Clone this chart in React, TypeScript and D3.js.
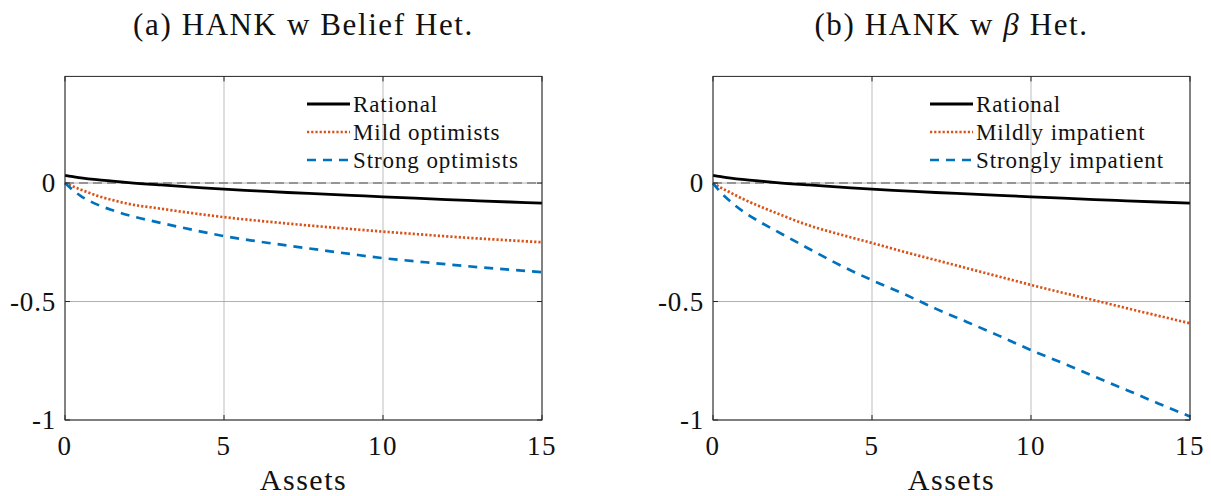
import * as d3 from 'd3';

// asset grid (x values) shared by every series
const assets = [0, 0.25, 0.5, 1, 1.5, 2, 3, 4, 5, 6, 7, 8, 9, 10, 11, 12, 13, 14, 15];

// (a) HANK w Belief Het.
const rationalA = [0.032, 0.027, 0.022, 0.014, 0.008, 0.002, -0.008, -0.017, -0.026, -0.033, -0.04, -0.046, -0.052, -0.058, -0.064, -0.07, -0.075, -0.08, -0.085];
const mildOptimists = [0, -0.015, -0.028, -0.053, -0.072, -0.088, -0.108, -0.127, -0.144, -0.158, -0.171, -0.183, -0.194, -0.205, -0.215, -0.225, -0.234, -0.242, -0.25];
const strongOptimists = [0, -0.03, -0.055, -0.09, -0.115, -0.136, -0.168, -0.197, -0.224, -0.245, -0.264, -0.282, -0.3, -0.317, -0.33, -0.343, -0.355, -0.366, -0.376];

// (b) HANK w beta Het.
const rationalB = [0.032, 0.027, 0.022, 0.014, 0.008, 0.002, -0.008, -0.017, -0.026, -0.033, -0.04, -0.046, -0.052, -0.058, -0.064, -0.07, -0.075, -0.08, -0.085];
const mildlyImpatient = [0, -0.02, -0.037, -0.071, -0.1, -0.127, -0.178, -0.217, -0.253, -0.29, -0.325, -0.36, -0.395, -0.43, -0.463, -0.495, -0.528, -0.56, -0.592];
const stronglyImpatient = [0, -0.04, -0.072, -0.125, -0.166, -0.203, -0.276, -0.347, -0.41, -0.468, -0.53, -0.587, -0.645, -0.705, -0.76, -0.817, -0.873, -0.93, -0.985];

const legendA = ['Rational', 'Mild optimists', 'Strong optimists'];
const legendB = ['Rational', 'Mildly impatient', 'Strongly impatient'];

const xTicks = [0, 5, 10, 15];
const yTicks = [-1, -0.5, 0];
const yTickLabels = ['-1', '-0.5', '0'];

const W = 1211;
const H = 496;
const FONT = '"Liberation Serif", "DejaVu Serif", serif';

const styles = [
  { color: '#000000', width: 2.8, dash: null },
  { color: '#D95319', width: 2.7, dash: '2.2,2' },
  { color: '#0072BD', width: 2.7, dash: '9,7' },
];

function Panel({ left, right, top, bottom, title, labels, series, legendX }) {
  const x = d3.scaleLinear().domain([0, 15]).range([left, right]);
  const y = d3.scaleLinear().domain([-1, 0.45]).range([bottom, top]);
  const line = d3.line<number>()
    .x((_, i) => x(assets[i]))
    .y(d => y(d))
    .curve(d3.curveMonotoneX);
  const cx = (left + right) / 2;
  const rowY = [104, 132, 160];

  return (
    <g>
      <text x={cx} y={35} textAnchor="middle" fontSize={31} letterSpacing={1.6} fontFamily={FONT} fill="#111">{title}</text>

      {/* grid */}
      {xTicks.map(t => (
        <line key={'gx' + t} x1={x(t)} x2={x(t)} y1={top} y2={bottom} stroke="#b5b5b5" strokeWidth={0.9} />
      ))}
      {yTicks.map(t => (
        <line key={'gy' + t} x1={left} x2={right} y1={y(t)} y2={y(t)} stroke="#a8a8a8" strokeWidth={0.9} />
      ))}

      {/* zero reference */}
      <line x1={left} x2={right} y1={y(0)} y2={y(0)} stroke="#808080" strokeWidth={1.5} strokeDasharray="9,5" />

      {series.map((s, i) => (
        <path key={i} d={line(s) || ''} fill="none" stroke={styles[i].color} strokeWidth={styles[i].width}
          strokeDasharray={styles[i].dash || undefined} />
      ))}

      {/* axes box and ticks */}
      <rect x={left} y={top} width={right - left} height={bottom - top} fill="none" stroke="#262626" strokeWidth={1} />
      {xTicks.map(t => (
        <g key={'tx' + t}>
          <line x1={x(t)} x2={x(t)} y1={bottom} y2={bottom - 5} stroke="#262626" />
          <line x1={x(t)} x2={x(t)} y1={top} y2={top + 5} stroke="#262626" />
          <text x={x(t)} y={455} textAnchor="middle" fontSize={27} letterSpacing={1.5} fontFamily={FONT} fill="#111">{t}</text>
        </g>
      ))}
      {yTicks.map((t, i) => (
        <g key={'ty' + t}>
          <line x1={left} x2={left + 5} y1={y(t)} y2={y(t)} stroke="#262626" />
          <line x1={right} x2={right - 5} y1={y(t)} y2={y(t)} stroke="#262626" />
          <text x={left - 9} y={y(t)} dy="0.35em" textAnchor="end" fontSize={27} letterSpacing={0.8} fontFamily={FONT} fill="#111">{yTickLabels[i]}</text>
        </g>
      ))}

      <text x={cx} y={490} textAnchor="middle" fontSize={30} letterSpacing={1.5} fontFamily={FONT} fill="#111">Assets</text>

      {/* legend */}
      {labels.map((lab, i) => (
        <g key={lab}>
          <line x1={legendX} x2={legendX + 43} y1={rowY[i]} y2={rowY[i]} stroke={styles[i].color}
            strokeWidth={styles[i].width} strokeDasharray={styles[i].dash || undefined} />
          <text x={legendX + 46} y={rowY[i]} dy="0.35em" fontSize={23} letterSpacing={0.9} fontFamily={FONT} fill="#111">{lab}</text>
        </g>
      ))}
    </g>
  );
}

export default function App() {
  return (
    <svg width={W} height={H} style={{ position: 'absolute', left: 0, top: 0, background: '#fff' }}>
      <rect width={W} height={H} fill="#fff" />
      <Panel left={65} right={542} top={76.4} bottom={420} title="(a) HANK w Belief Het."
        labels={legendA} series={[rationalA, mildOptimists, strongOptimists]} legendX={307} />
      <Panel left={713} right={1190} top={76.4} bottom={420}
        title={<>(b) HANK w <tspan fontStyle="italic">β</tspan> Het.</>}
        labels={legendB} series={[rationalB, mildlyImpatient, stronglyImpatient]} legendX={930} />
    </svg>
  );
}
